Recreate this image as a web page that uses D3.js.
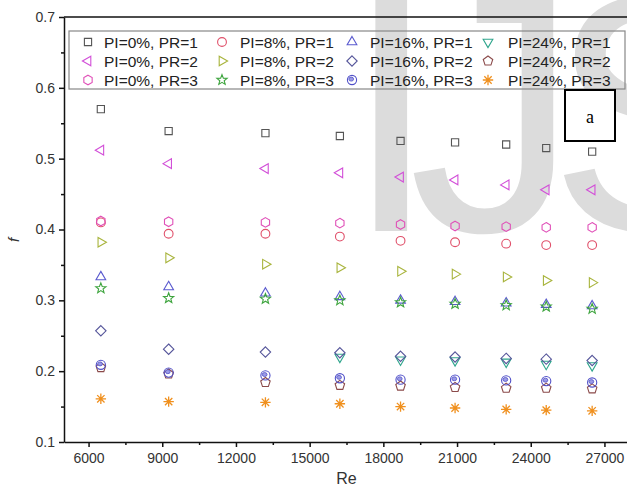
<!DOCTYPE html>
<html>
<head>
<meta charset="utf-8">
<script src="https://cdn.jsdelivr.net/npm/d3@7"></script>
<style>
  body { margin: 0; background: #fff; }
  svg { display: block; font-family: "Liberation Sans", Arial, sans-serif; }
</style>
</head>
<body>
<svg id="chart" width="627" height="493"></svg>
<script>
// DATA -----------------------------------------------------------
const reValues = [6500, 9260, 13200, 16230, 18700, 20920, 23000, 24630, 26500]

const pi0pr1 = [0.570, 0.539, 0.536, 0.532, 0.525, 0.523, 0.520, 0.515, 0.510]
const pi0pr2 = [0.512, 0.493, 0.486, 0.480, 0.474, 0.470, 0.463, 0.456, 0.456]
const pi0pr3 = [0.412, 0.411, 0.410, 0.409, 0.407, 0.405, 0.404, 0.403, 0.403]
const pi8pr1 = [0.410, 0.394, 0.394, 0.390, 0.384, 0.382, 0.380, 0.378, 0.378]
const pi8pr2 = [0.382, 0.360, 0.351, 0.346, 0.341, 0.337, 0.333, 0.328, 0.325]
const pi8pr3 = [0.317, 0.303, 0.302, 0.300, 0.297, 0.295, 0.293, 0.291, 0.288]
const pi16pr1 = [0.333, 0.319, 0.310, 0.305, 0.300, 0.298, 0.296, 0.294, 0.292]
const pi16pr2 = [0.257, 0.231, 0.227, 0.226, 0.221, 0.220, 0.218, 0.217, 0.215]
const pi16pr3 = [0.209, 0.198, 0.194, 0.190, 0.188, 0.188, 0.187, 0.186, 0.184]
const pi24pr1 = [null, null, null, 0.220, 0.216, 0.215, 0.213, 0.210, 0.208]
const pi24pr2 = [0.205, 0.196, 0.184, 0.180, 0.179, 0.177, 0.176, 0.176, 0.175]
const pi24pr3 = [0.161, 0.157, 0.156, 0.154, 0.150, 0.148, 0.146, 0.145, 0.144]

const xTicks = [6000, 9000, 12000, 15000, 18000, 21000, 24000, 27000]
const xMinorTicks = [7500, 10500, 13500, 16500, 19500, 22500, 25500]
const yTicks = [0.1, 0.2, 0.3, 0.4, 0.5, 0.6, 0.7]
const yMinorTicks = [0.15, 0.25, 0.35, 0.45, 0.55, 0.65]

// legend order: row by row, 4 columns
const series = [
    { label: "PI=0%, PR=1", values: pi0pr1, shape: "square", color: "#555555" },
    { label: "PI=8%, PR=1", values: pi8pr1, shape: "circle", color: "#e0506a" },
    { label: "PI=16%, PR=1", values: pi16pr1, shape: "up", color: "#5a5acf" },
    { label: "PI=24%, PR=1", values: pi24pr1, shape: "down", color: "#2fa58c" },
    { label: "PI=0%, PR=2", values: pi0pr2, shape: "left", color: "#d24fd8" },
    { label: "PI=8%, PR=2", values: pi8pr2, shape: "right", color: "#a8b43c" },
    { label: "PI=16%, PR=2", values: pi16pr2, shape: "diamond", color: "#55559a" },
    { label: "PI=24%, PR=2", values: pi24pr2, shape: "pentagon", color: "#8b4a4a" },
    { label: "PI=0%, PR=3", values: pi0pr3, shape: "hexagon", color: "#e050b8" },
    { label: "PI=8%, PR=3", values: pi8pr3, shape: "star", color: "#3fa53f" },
    { label: "PI=16%, PR=3", values: pi16pr3, shape: "sphere", color: "#5050c8" },
    { label: "PI=24%, PR=3", values: pi24pr3, shape: "asterisk", color: "#f0901e" }
]

// LAYOUT -----------------------------------------------------------
const margin = { top: 17, left: 64 }
const plotRight = 629
const plotBottom = 442

const svg = d3.select("#chart")

// watermark in the background
svg.append("text")
    .attr("x", 344)
    .attr("y", 231)
    .attr("font-size", "340px")
    .attr("letter-spacing", "-30px")
    .attr("fill", "#dcdcdc")
    .text("IJSER")

const xScale = d3.scaleLinear().domain([5000, 28000]).range([margin.left, plotRight])
const yScale = d3.scaleLinear().domain([0.1, 0.7]).range([plotBottom, margin.top])

// AXES -----------------------------------------------------------
const xAxis = svg.append("g")
    .attr("transform", `translate(0, ${plotBottom})`)
    .call(d3.axisBottom(xScale).tickValues(xTicks).tickSize(5).tickPadding(6).tickSizeOuter(0)
        .tickFormat(d3.format("d")))
svg.append("g")
    .attr("transform", `translate(0, ${plotBottom})`)
    .call(d3.axisBottom(xScale).tickValues(xMinorTicks).tickSize(3).tickFormat(""))
    .call(g => g.select(".domain").remove())

const yAxis = svg.append("g")
    .attr("transform", `translate(${margin.left}, 0)`)
    .call(d3.axisLeft(yScale).tickValues(yTicks).tickSize(5).tickPadding(4).tickSizeOuter(0)
        .tickFormat(d3.format(".1f")))
svg.append("g")
    .attr("transform", `translate(${margin.left}, 0)`)
    .call(d3.axisLeft(yScale).tickValues(yMinorTicks).tickSize(3).tickFormat(""))
    .call(g => g.select(".domain").remove())

svg.selectAll(".domain, .tick line").attr("stroke", "#111").attr("stroke-width", 1.5)
svg.selectAll(".tick text").attr("font-size", "14px").attr("fill", "#333")
    .attr("font-family", "'Liberation Sans', Arial, sans-serif")

// top frame line
svg.append("line")
    .attr("x1", margin.left).attr("x2", plotRight)
    .attr("y1", margin.top).attr("y2", margin.top)
    .attr("stroke", "#111").attr("stroke-width", 1.5)

svg.append("text")
    .attr("x", (margin.left + plotRight) / 2)
    .attr("y", 484)
    .attr("text-anchor", "middle")
    .attr("font-size", "16px")
    .attr("fill", "#333")
    .text("Re")

svg.append("text")
    .attr("transform", "translate(19, 240) rotate(-90)")
    .attr("text-anchor", "middle")
    .attr("font-size", "15px")
    .attr("font-style", "italic")
    .attr("fill", "#333")
    .text("f")

// MARKERS -----------------------------------------------------------
function polygon(p, n, r, rot) {
    for (let k = 0; k < n; k++) {
        const a = rot + k * 2 * Math.PI / n
        const px = r * Math.cos(a), py = r * Math.sin(a)
        if (k === 0) p.moveTo(px, py); else p.lineTo(px, py)
    }
    p.closePath()
}

function shapePath(shape) {
    const p = d3.path()
    const up = -Math.PI / 2
    if (shape === "square") p.rect(-3.6, -3.6, 7.2, 7.2)
    else if (shape === "circle") p.arc(0, 0, 4.4, 0, 2 * Math.PI)
    else if (shape === "up") polygon(p, 3, 5.6, up)
    else if (shape === "down") polygon(p, 3, 5.6, Math.PI / 2)
    else if (shape === "left") polygon(p, 3, 5.6, Math.PI)
    else if (shape === "right") polygon(p, 3, 5.6, 0)
    else if (shape === "diamond") polygon(p, 4, 5.2, up)
    else if (shape === "pentagon") polygon(p, 5, 5, up)
    else if (shape === "hexagon") polygon(p, 6, 4.8, up)
    else if (shape === "star") {
        for (let k = 0; k < 10; k++) {
            const r = k % 2 === 0 ? 5.4 : 2.3
            const a = up + k * Math.PI / 5
            if (k === 0) p.moveTo(r * Math.cos(a), r * Math.sin(a))
            else p.lineTo(r * Math.cos(a), r * Math.sin(a))
        }
        p.closePath()
    }
    else if (shape === "sphere") p.arc(0, 0, 4.6, 0, 2 * Math.PI)
    else if (shape === "asterisk") {
        for (let k = 0; k < 4; k++) {
            const a = k * Math.PI / 4
            p.moveTo(5.2 * Math.cos(a), 5.2 * Math.sin(a))
            p.lineTo(-5.2 * Math.cos(a), -5.2 * Math.sin(a))
        }
    }
    return p.toString()
}

function drawMarker(g, shape, color) {
    g.append("path")
        .attr("d", shapePath(shape))
        .attr("fill", "none")
        .attr("stroke", color)
        .attr("stroke-width", shape === "asterisk" ? 1.3 : 1.1)
    if (shape === "sphere") {
        g.append("ellipse")
            .attr("cx", -0.8).attr("cy", -0.9)
            .attr("rx", 2.4).attr("ry", 2.0)
            .attr("fill", "#9a9ae6")
            .attr("stroke", color)
            .attr("stroke-width", 0.8)
    }
}

const points = svg.append("g").attr("class", "points")
series.forEach(s => {
    s.values.forEach((v, i) => {
        if (v == null) return
        const g = points.append("g")
            .attr("transform", `translate(${xScale(reValues[i])}, ${yScale(v)})`)
        drawMarker(g, s.shape, s.color)
    })
})

// LEGEND -----------------------------------------------------------
const legend = svg.append("g").attr("class", "legend")
legend.append("rect")
    .attr("x", 69).attr("y", 31)
    .attr("width", 556).attr("height", 58)
    .attr("fill", "none")
    .attr("stroke", "#888")
    .attr("stroke-width", 1.2)

const colSymbolX = [88, 222, 352, 488]
const colTextX = [104, 240, 370, 508]
const rowY = [42, 61, 80]

series.forEach((s, i) => {
    const col = i % 4, row = Math.floor(i / 4)
    const g = legend.append("g")
        .attr("transform", `translate(${colSymbolX[col]}, ${rowY[row]})`)
    drawMarker(g, s.shape, s.color)
    legend.append("text")
        .attr("x", colTextX[col])
        .attr("y", rowY[row] + 5.5)
        .attr("font-size", "15.5px")
        .attr("fill", "#222")
        .text(s.label)
})

// panel tag "a"
svg.append("rect")
    .attr("x", 565).attr("y", 90)
    .attr("width", 50).attr("height", 51)
    .attr("fill", "#fff")
    .attr("stroke", "#000")
    .attr("stroke-width", 2)
svg.append("text")
    .attr("x", 590).attr("y", 123)
    .attr("text-anchor", "middle")
    .attr("font-family", "'Liberation Serif', 'Times New Roman', serif")
    .attr("font-size", "18px")
    .text("a")
</script>
</body>
</html>
